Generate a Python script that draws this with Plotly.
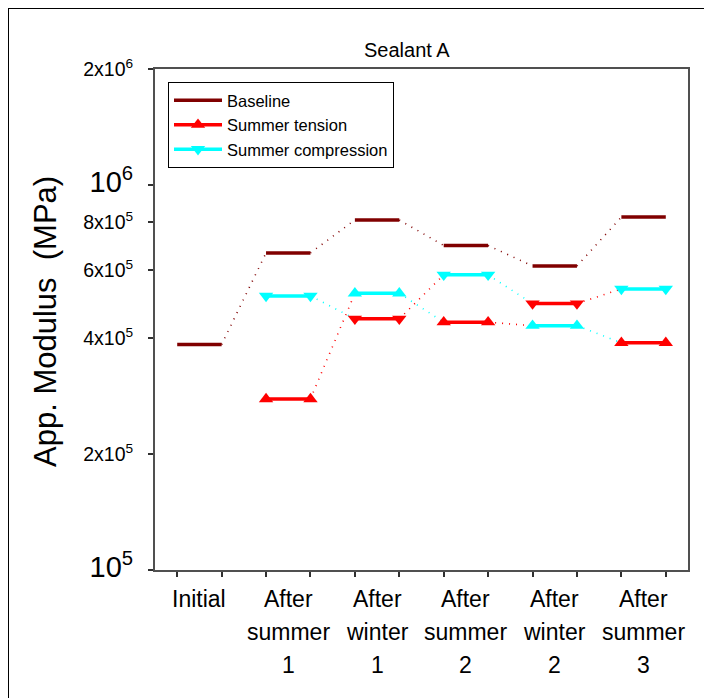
import plotly.graph_objects as go

# ---------------- data ----------------
categories = [["Initial"], ["After", "summer", "1"], ["After", "winter", "1"],
              ["After", "summer", "2"], ["After", "winter", "2"], ["After", "summer", "3"]]
stages = ["initial", "summer", "winter", "summer", "winter", "summer"]

baseline = [3.85e5, 6.66e5, 8.11e5, 6.96e5, 6.16e5, 8.25e5]
summer_tension = [None, 2.78e5, 5.23e5, 4.40e5, 4.31e5, 3.89e5]
summer_compression = [None, 5.15e5, 4.49e5, 5.84e5, 4.92e5, 5.37e5]

ytick_vals = [1e5, 2e5, 4e5, 6e5, 8e5, 1e6, 2e6]
ytick_text = ["<span style='font-size:29px'>10<sup>5</sup></span>",
              "2x10<sup>5</sup>", "4x10<sup>5</sup>", "6x10<sup>5</sup>", "8x10<sup>5</sup>",
              "<span style='font-size:29px'>10<sup>6</sup></span>",
              "2x10<sup>6</sup>"]

# ---------------- styling ----------------
DARK = "#800000"
RED = "#ff0000"
CYAN = "#00ffff"

series = [
    dict(name="Baseline", values=baseline, symbol=None,
         colors={"initial": DARK, "summer": DARK, "winter": DARK}),
    dict(name="Summer tension", values=summer_tension, symbol="triangle-up",
         colors={"summer": RED, "winter": CYAN}),
    dict(name="Summer compression", values=summer_compression, symbol="triangle-down",
         colors={"summer": CYAN, "winter": RED}),
]

# page has an 8px body margin; figure coords = screen coords - 8
W, H = 704, 690
L, R, T, B = 147, 680, 61, 562  # plot area in figure pixels


def px_x(p):
    return (p - L) / (R - L)


def px_y(p):
    return (B - p) / (B - T)


fig = go.Figure()

# dotted connectors (beneath)
for s in series:
    vals = s["values"]
    for i in range(len(vals) - 1):
        if vals[i] is None or vals[i + 1] is None:
            continue
        c = s["colors"][stages[i]]
        fig.add_trace(go.Scatter(
            x=[2 * i + 1, 2 * i + 2], y=[vals[i], vals[i + 1]], mode="lines",
            line=dict(color=c, width=1.6, dash="1px,6px"), showlegend=False, hoverinfo="skip"))

# horizontal segments
for s in series:
    vals = s["values"]
    first = True
    for i, v in enumerate(vals):
        if v is None:
            continue
        c = s["colors"][stages[i]]
        kw = dict(mode="lines")
        if s["symbol"]:
            kw = dict(mode="lines+markers",
                      marker=dict(symbol=s["symbol"], size=12.5, color=c, line=dict(width=0)))
        fig.add_trace(go.Scatter(
            x=[2 * i, 2 * i + 1], y=[v, v], line=dict(color=c, width=3.5),
            name=s["name"], showlegend=first, **kw))
        first = False

annotations = []
# category labels
for i, lines in enumerate(categories):
    for j, txt in enumerate(lines):
        annotations.append(dict(
            x=2 * i + 0.5, xref="x", y=px_y(591 + 33 * j), yref="paper",
            text=txt, showarrow=False, xanchor="center", yanchor="middle",
            font=dict(size=23, color="black")))

# title
annotations.append(dict(x=px_x(399), y=px_y(42), xref="paper", yref="paper",
                        text="Sealant A", showarrow=False, xanchor="center", yanchor="middle",
                        font=dict(size=20, color="black")))
# y axis title
annotations.append(dict(x=px_x(37), y=px_y(314), xref="paper", yref="paper",
                        text="App. Modulus\u00a0 (MPa)", showarrow=False, textangle=-90,
                        xanchor="center", yanchor="middle", font=dict(size=31, color="black")))

shapes = [
    dict(type="line", xref="paper", yref="paper", x0=px_x(0), x1=px_x(W),
         y0=px_y(0), y1=px_y(0), line=dict(color="black", width=2)),
    dict(type="line", xref="paper", yref="paper", x0=px_x(0), x1=px_x(0),
         y0=px_y(0), y1=px_y(H), line=dict(color="black", width=2)),
]

fig.update_layout(
    width=W, height=H,
    margin=dict(l=L, r=W - R, t=T, b=H - B, pad=0),
    paper_bgcolor="white", plot_bgcolor="white",
    font=dict(family="Liberation Sans, Arial, sans-serif", color="black"),
    showlegend=True,
    legend=dict(x=px_x(160), y=px_y(74), xanchor="left", yanchor="top",
                bordercolor="black", borderwidth=1, bgcolor="white",
                font=dict(size=16.5, color="black"), tracegroupgap=0, itemwidth=48),
    annotations=annotations,
    shapes=shapes,
    xaxis=dict(range=[-0.5, 11.5], tickvals=list(range(12)), ticktext=[""] * 12,
               ticks="outside", ticklen=5, tickwidth=1.5, tickcolor="#303030",
               showline=True, linecolor="#505050", linewidth=2, mirror=True,
               showgrid=False, zeroline=False, fixedrange=True),
    yaxis=dict(type="log", range=[5, 6.30103], tickvals=ytick_vals, ticktext=ytick_text,
               ticks="outside", ticklen=5, tickwidth=1.5, tickcolor="#303030",
               showline=True, linecolor="#505050", linewidth=2, mirror=True,
               showgrid=False, zeroline=False, tickfont=dict(size=19.5, color="black"),
               ticklabelstandoff=11),
)

fig.write_html("out.html")
